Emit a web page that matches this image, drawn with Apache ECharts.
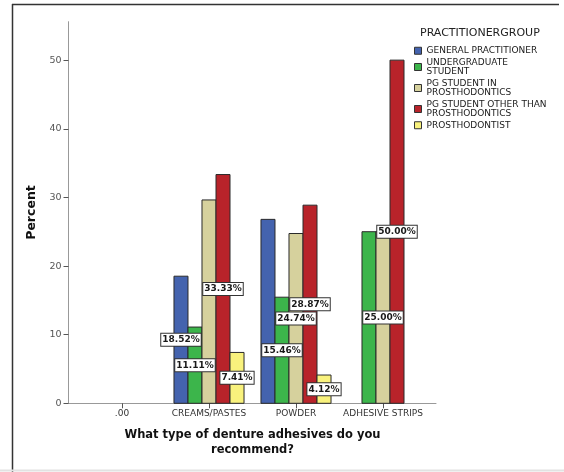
<!DOCTYPE html>
<html>
<head>
<meta charset="utf-8">
<script src="https://cdn.jsdelivr.net/npm/echarts@6/dist/echarts.min.js"></script>
<style>
html,body{margin:0;padding:0;background:#fff;}
#chart{width:564px;height:472px;}
</style>
</head>
<body>
<div id="chart"></div>
<script>
const categories = ['.00', 'CREAMS/PASTES', 'POWDER', 'ADHESIVE STRIPS'];
const seriesNames = [
  'GENERAL PRACTITIONER',
  'UNDERGRADUATE\nSTUDENT',
  'PG STUDENT IN\nPROSTHODONTICS',
  'PG STUDENT OTHER THAN\nPROSTHODONTICS',
  'PROSTHODONTIST'
];
const generalPractitioner = [null, 18.52, 26.80, null];
const undergraduateStudent = [null, 11.11, 15.46, 25.00];
const pgStudentProstho = [null, 29.63, 24.74, 25.00];
const pgStudentOther = [null, 33.33, 28.87, 50.00];
const prosthodontist = [null, 7.41, 4.12, null];
const labelShown = [
  [false, true, false, false],
  [false, true, true, false],
  [false, false, true, true],
  [false, true, true, true],
  [false, true, true, false]
];
const yTicks = [0, 10, 20, 30, 40, 50];
const yMax = 55.6;
const colors = ['#4463ae', '#3cb54b', '#d6d19d', '#b8232a', '#f9f27d'];

const allValues = [generalPractitioner, undergraduateStudent, pgStudentProstho, pgStudentOther, prosthodontist];
const BAR_RATIO = 0.161;
const FONT = '"DejaVu Sans", sans-serif';

function makeRender(s) {
  return function (params, api) {
    const ci = api.value(0);
    const v = api.value(1);
    if (v == null || isNaN(v)) return null;
    let n = 0, rank = 0;
    for (let k = 0; k < allValues.length; k++) {
      if (allValues[k][ci] != null) {
        if (k < s) rank++;
        n++;
      }
    }
    const band = api.size([1, 0])[0];
    const bw = band * BAR_RATIO;
    const base = api.coord([ci, 0]);
    const top = api.coord([ci, v]);
    const x0 = base[0] - n * bw / 2 + rank * bw;
    const children = [{
      type: 'rect',
      shape: { x: x0, y: top[1], width: bw, height: base[1] - top[1] },
      style: { fill: colors[s], stroke: '#2a2a2a', lineWidth: 1 }
    }];
    if (labelShown[s][ci]) {
      const mid = api.coord([ci, v / 2]);
      children.push({
        type: 'text',
        z2: 100,
        x: x0 + bw / 2,
        y: mid[1],
        style: {
          text: v.toFixed(2) + '%',
          align: 'center',
          verticalAlign: 'middle',
          font: 'bold 9px ' + FONT,
          fill: '#1a1a1a',
          backgroundColor: '#fff',
          borderColor: '#333',
          borderWidth: 1,
          padding: [2, 1, 1, 1]
        }
      });
    }
    return { type: 'group', children: children };
  };
}

const chart = echarts.init(document.getElementById('chart'), null, { renderer: 'canvas' });
chart.setOption({
  animation: false,
  backgroundColor: '#fff',
  title: {
    text: 'PRACTITIONERGROUP',
    left: 420,
    top: 28,
    padding: 0,
    textStyle: { fontFamily: FONT, fontSize: 11, fontWeight: 'normal', color: '#222' }
  },
  legend: {
    orient: 'vertical',
    left: 414,
    top: 46,
    padding: 0,
    itemGap: 2,
    itemWidth: 7,
    itemHeight: 7,
    icon: 'rect',
    data: seriesNames,
    itemStyle: { borderColor: '#333', borderWidth: 1 },
    textStyle: { fontFamily: FONT, fontSize: 9, lineHeight: 9.5, color: '#1a1a1a' }
  },
  grid: [
    { left: 78.5, width: 348, top: 21.7, bottom: 68.7 },
    { left: 68.5, width: 367.5, top: 21.7, bottom: 68.7 }
  ],
  xAxis: [
    {
      gridIndex: 0,
      type: 'category',
      data: categories,
      axisLine: { show: false },
      axisTick: { show: true, alignWithLabel: true, length: 5, lineStyle: { color: '#555' } },
      axisLabel: { margin: 6, fontFamily: FONT, fontSize: 9, color: '#333', interval: 0 },
      name: 'What type of denture adhesives do you\nrecommend?',
      nameLocation: 'middle',
      nameGap: 24,
      nameTextStyle: { fontFamily: FONT, fontSize: 11.5, fontWeight: 'bold', color: '#111', lineHeight: 15 }
    },
    {
      gridIndex: 1,
      type: 'value',
      min: 0,
      max: 1,
      axisLine: { show: true, lineStyle: { color: '#999' } },
      axisTick: { show: false },
      axisLabel: { show: false },
      splitLine: { show: false }
    }
  ],
  yAxis: [
    {
      gridIndex: 0,
      type: 'value',
      min: 0,
      max: yMax,
      offset: 10,
      axisLine: { show: true, lineStyle: { color: '#999' } },
      axisTick: { show: true, length: 5, customValues: yTicks, lineStyle: { color: '#555' } },
      axisLabel: { margin: 7, customValues: yTicks, fontFamily: FONT, fontSize: 9.5, color: '#555' },
      splitLine: { show: false },
      name: 'Percent',
      nameLocation: 'middle',
      nameRotate: 90,
      nameGap: 27,
      nameTextStyle: { fontFamily: FONT, fontSize: 12.5, fontWeight: 'bold', color: '#111' }
    },
    { gridIndex: 1, type: 'value', show: false, min: 0, max: 1 }
  ],
  graphic: [
    { type: 'line', shape: { x1: 12, y1: 4.5, x2: 559, y2: 4.5 }, style: { stroke: '#333', lineWidth: 1.5 } },
    { type: 'line', shape: { x1: 12.5, y1: 4, x2: 12.5, y2: 472 }, style: { stroke: '#333', lineWidth: 1.5 } },
    { type: 'line', shape: { x1: 0, y1: 470.5, x2: 564, y2: 470.5 }, style: { stroke: '#e2e2e2', lineWidth: 2 } }
  ],
  series: seriesNames.map(function (name, s) {
    return {
      type: 'custom',
      name: name,
      xAxisIndex: 0,
      yAxisIndex: 0,
      itemStyle: { color: colors[s], borderColor: '#333', borderWidth: 1 },
      encode: { x: 0, y: 1 },
      renderItem: makeRender(s),
      data: allValues[s].map(function (v, i) { return [i, v == null ? NaN : v]; })
    };
  })
});
</script>
</body>
</html>
